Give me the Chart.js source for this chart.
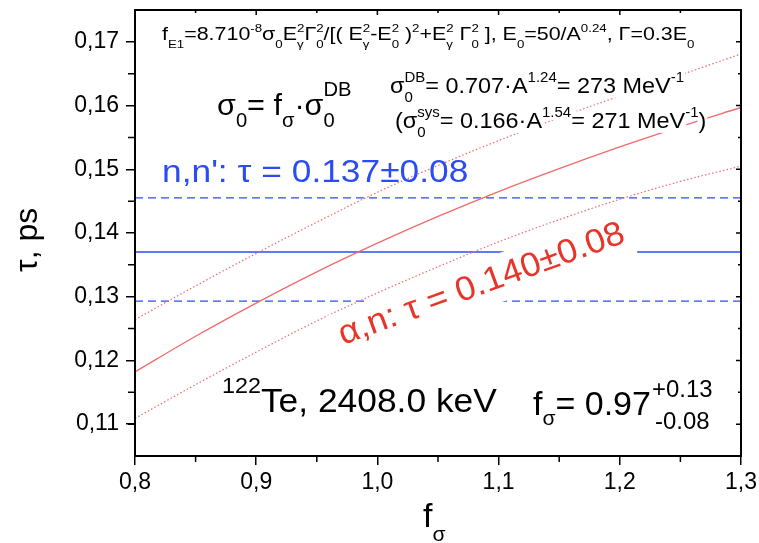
<!DOCTYPE html>
<html>
<head>
<meta charset="utf-8">
<script src="https://cdn.jsdelivr.net/npm/chart.js@4.4.1/dist/chart.umd.min.js"></script>
<style>
  body { margin: 0; background: #fff; }
  #wrap { width: 759px; height: 543px; position: relative; }
</style>
</head>
<body>
<div id="wrap"><canvas id="tauChart"></canvas></div>
<script>
const FONT = '"Liberation Sans", Arial, sans-serif';

// f_sigma grid and lifetimes from the (alpha,n) analysis
const fSigma   = [0.80, 0.85, 0.90, 0.95, 1.00, 1.05, 1.10, 1.15, 1.20, 1.25, 1.30];
const tauAn    = [0.1182, 0.1238, 0.1290, 0.1339, 0.1384, 0.1426, 0.1465, 0.1501, 0.1535, 0.1567, 0.1597];
const tauAnUp  = [0.1264, 0.1317, 0.1368, 0.1417, 0.1464, 0.1506, 0.1545, 0.1581, 0.1615, 0.1648, 0.1681];
const tauAnLow = [0.1109, 0.1162, 0.1213, 0.1262, 0.1306, 0.1347, 0.1386, 0.1421, 0.1453, 0.1481, 0.1505];

// (n,n') lifetime with its band
const tauNN    = 0.137;
const tauNNUp  = 0.1455;
const tauNNLow = 0.1293;

const xRange = [0.8, 1.3];
const yRange = [0.105, 0.175];
const xTicks = [0.8, 0.9, 1.0, 1.1, 1.2, 1.3];
const yTicks = [0.11, 0.12, 0.13, 0.14, 0.15, 0.16, 0.17];

const BLUE = '#2b4cf2';
const RED_LINE = '#f06a6a';
const RED_TEXT = '#e8352a';

const curve = ys => fSigma.map((x, i) => ({ x, y: ys[i] }));
const flat = y => xRange.map(x => ({ x, y }));

// draws text with sub/superscripts; parts are strings or {t, sub, sup}
function drawRich(ctx, x, y, parts, o) {
  const S = o.size, s = S * (o.small || 0.62);
  const sx = o.sx || 1;
  const items = [];
  let cx = 0;
  parts.forEach(p => {
    if (typeof p === 'string') p = { t: p };
    if (p.t) {
      ctx.font = `${S}px ${FONT}`;
      const w = ctx.measureText(p.t).width;
      items.push({ t: p.t, x: cx, y: 0, f: S, w });
      cx += w;
    }
    let w2 = 0;
    ctx.font = `${s}px ${FONT}`;
    if (p.sub) {
      const w = ctx.measureText(p.sub).width;
      items.push({ t: p.sub, x: cx, y: S * (o.subDy || 0.3), f: s, w });
      w2 = Math.max(w2, w);
    }
    if (p.sup) {
      const w = ctx.measureText(p.sup).width;
      items.push({ t: p.sup, x: cx, y: -S * (o.supDy || 0.45), f: s, w });
      w2 = Math.max(w2, w);
    }
    cx += w2;
  });
  ctx.save();
  ctx.translate(x, y);
  if (o.angle) ctx.rotate(o.angle);
  ctx.scale(sx, 1);
  ctx.fillStyle = '#fff';
  if (o.box) {
    const [pad, top, h] = o.box;
    ctx.fillRect(-pad, -top, cx + 2 * pad, h);
  } else if (o.bg) {
    items.forEach(it => ctx.fillRect(it.x - 1, it.y - it.f * 0.76, it.w + 2, it.f * 0.98));
  }
  ctx.fillStyle = o.color || '#000';
  ctx.textBaseline = 'alphabetic';
  ctx.textAlign = 'left';
  items.forEach(it => {
    ctx.font = `${it.f}px ${FONT}`;
    ctx.fillText(it.t, it.x, it.y);
  });
  ctx.restore();
  return cx * sx;
}

const framePlugin = {
  id: 'frame',
  afterDatasetsDraw(chart) {
    const ctx = chart.ctx;
    const a = chart.chartArea;
    const xs = chart.scales.x, ys = chart.scales.y;

    // text blocks inside the plot
    drawRich(ctx, 162, 40, [
      { t: 'f', sub: 'E1' }, { t: '=8.710', sup: '-8' }, { t: 'σ', sub: '0' },
      { t: 'E', sub: 'γ', sup: '2' }, { t: 'Γ', sub: '0', sup: '2' },
      { t: '/[( E', sub: 'γ', sup: '2' }, { t: '-E', sub: '0', sup: '2' },
      { t: ' )', sup: '2' }, { t: '+E', sub: 'γ', sup: '2' }, { t: ' Γ', sub: '0', sup: '2' },
      { t: ' ], E', sub: '0' }, { t: '=50/A', sup: '0.24' }, { t: ', Γ=0.3E', sub: '0' }
    ], { size: 18, small: 0.62, subDy: 0.42, supDy: 0.42, sx: 1.19 });

    drawRich(ctx, 217, 115, [
      { t: 'σ', sub: '0' }, { t: '= f', sub: 'σ' }, { t: '·σ', sub: '0', sup: 'DB' }
    ], { size: 30, small: 0.66, subDy: 0.4, supDy: 0.62, sx: 1.02 });

    drawRich(ctx, 390, 93, [
      { t: 'σ', sub: '0', sup: 'DB' }, { t: '= 0.707·A', sup: '1.24' },
      { t: '= 273 MeV', sup: '-1' }
    ], { size: 22, small: 0.64, subDy: 0.42, supDy: 0.5, bg: true, sx: 1.065 });

    drawRich(ctx, 395, 128, [
      { t: '(σ', sub: '0', sup: 'sys' }, { t: '= 0.166·A', sup: '1.54' },
      { t: '= 271 MeV', sup: '-1' }, { t: ')' }
    ], { size: 22, small: 0.64, subDy: 0.42, supDy: 0.5, bg: true, sx: 1.065 });

    drawRich(ctx, 162, 182, ["n,n': τ = 0.137±0.08"], { size: 31, color: BLUE, sx: 1.14 });

    // rotated (alpha,n) label on a white box
    drawRich(ctx, 343, 345, ['α,n: τ = 0.140±0.08'], {
      size: 34, color: RED_TEXT, angle: -20 * Math.PI / 180, sx: 1.045, box: [6, 33, 47]
    });

    drawRich(ctx, 222, 412, [{ t: '', sup: '122' }, { t: 'Te, 2408.0 keV' }],
      { size: 34, small: 0.66, supDy: 0.55, sx: 1.04 });

    drawRich(ctx, 533, 415, [{ t: 'f', sub: 'σ' }, { t: '= 0.97' }], { size: 34, small: 0.62, subDy: 0.3 });
    drawRich(ctx, 652, 397, ['+0.13'], { size: 23, sx: 1.04 });
    drawRich(ctx, 655, 429, ['-0.08'], { size: 23, sx: 1.04 });

    // axis titles
    drawRich(ctx, 423, 527, [{ t: 'f', sub: 'σ' }], { size: 34, small: 0.62, subDy: 0.42 });
    ctx.save();
    ctx.translate(37, 272);
    ctx.rotate(-Math.PI / 2);
    ctx.font = `32px ${FONT}`;
    ctx.fillStyle = '#000';
    ctx.fillText('τ, ps', 0, 0);
    ctx.restore();

    // frame, minor ticks and mirrored ticks
    ctx.save();
    ctx.strokeStyle = '#000';
    ctx.lineWidth = 2;
    ctx.strokeRect(a.left, a.top, a.right - a.left, a.bottom - a.top);
    ctx.lineWidth = 1.5;
    ctx.beginPath();
    for (let i = 0; i < xTicks.length; i++) {
      const px = xs.getPixelForValue(xTicks[i]);
      ctx.moveTo(px, a.top); ctx.lineTo(px, a.top + 5);
      if (i < xTicks.length - 1) {
        const pm = xs.getPixelForValue((xTicks[i] + xTicks[i + 1]) / 2);
        ctx.moveTo(pm, a.bottom); ctx.lineTo(pm, a.bottom + 6);
        ctx.moveTo(pm, a.top); ctx.lineTo(pm, a.top + 3);
      }
    }
    yTicks.forEach(v => {
      const py = ys.getPixelForValue(v);
      ctx.moveTo(a.right, py); ctx.lineTo(a.right - 5, py);
    });
    [yRange[0], ...yTicks].map(v => v + 0.005).forEach(v => {
      if (v >= yRange[1]) return;
      const py = ys.getPixelForValue(v);
      ctx.moveTo(a.left, py); ctx.lineTo(a.left - 7, py);
      ctx.moveTo(a.right, py); ctx.lineTo(a.right - 3, py);
    });
    ctx.stroke();
    ctx.restore();
  }
};

const tickFont = { family: FONT, size: 23 };

new Chart(document.getElementById('tauChart'), {
  type: 'scatter',
  data: {
    datasets: [
      { data: curve(tauAnUp), borderColor: RED_LINE, borderWidth: 1.2, borderDash: [1.5, 2.2] },
      { data: curve(tauAnLow), borderColor: RED_LINE, borderWidth: 1.2, borderDash: [1.5, 2.2] },
      { data: curve(tauAn), borderColor: RED_LINE, borderWidth: 1.3 },
      { data: flat(tauNNUp), borderColor: BLUE, borderWidth: 1.3, borderDash: [8, 5] },
      { data: flat(tauNNLow), borderColor: BLUE, borderWidth: 1.3, borderDash: [8, 5] },
      { data: flat(tauNN), borderColor: BLUE, borderWidth: 1.5 }
    ].map(d => Object.assign(d, { showLine: true, pointRadius: 0, fill: false, cubicInterpolationMode: 'monotone' }))
  },
  options: {
    responsive: true,
    maintainAspectRatio: false,
    animation: false,
    layout: { padding: { top: 10, right: 18, left: 0, bottom: 0 } },
    plugins: { legend: { display: false }, tooltip: { enabled: false } },
    scales: {
      x: {
        type: 'linear', min: xRange[0], max: xRange[1],
        afterBuildTicks: s => { s.ticks = xTicks.map(value => ({ value })); },
        afterFit: s => { s.height = 87; s.paddingLeft = 0; s.paddingRight = 0; },
        ticks: { font: tickFont, color: '#000', padding: 4, maxRotation: 0,
          callback: v => v.toFixed(1).replace('.', ',') },
        grid: { drawOnChartArea: false, tickLength: 9, color: '#000', lineWidth: 1.5 },
        border: { color: '#000', width: 2 }
      },
      y: {
        type: 'linear', min: yRange[0], max: yRange[1],
        afterBuildTicks: s => { s.ticks = yTicks.map(value => ({ value })); },
        afterFit: s => { s.width = 135; s.paddingTop = 0; s.paddingBottom = 0; },
        ticks: { font: tickFont, color: '#000', padding: 7,
          callback: v => v.toFixed(2).replace('.', ',') },
        grid: { drawOnChartArea: false, tickLength: 9, color: '#000', lineWidth: 1.5 },
        border: { color: '#000', width: 2 }
      }
    }
  },
  plugins: [framePlugin]
});
</script>
</body>
</html>
